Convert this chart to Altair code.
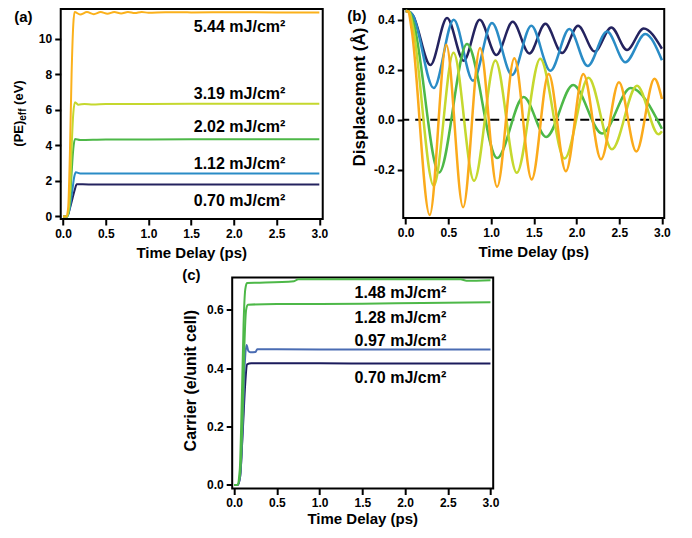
import altair as alt
import pandas as pd

FONT = "Liberation Sans"

# ---------------- Panel (a): (PE)eff vs time ----------------
a_names = ["0.70 mJ/cm²", "1.12 mJ/cm²", "2.02 mJ/cm²", "3.19 mJ/cm²", "5.44 mJ/cm²"]
a_colors = ["#24235F", "#2A8CC6", "#4DB848", "#C5D82E", "#FBB11B"]
a_t_070 = [0.0, 0.05, 0.08, 0.11, 0.14, 0.16, 0.3, 1.0, 2.0, 3.0]
a_v_070 = [0.0, 0.0, 0.45, 1.0, 1.55, 1.81, 1.8, 1.8, 1.79, 1.79]
a_t_112 = [0.0, 0.05, 0.08, 0.11, 0.13, 0.15, 0.2, 0.5, 1.0, 2.0, 3.0]
a_v_112 = [0.0, 0.0, 0.5, 1.5, 2.2, 2.48, 2.42, 2.42, 2.41, 2.42, 2.42]
a_t_202 = [0.0, 0.05, 0.08, 0.10, 0.12, 0.14, 0.2, 0.5, 1.0, 2.0, 3.0]
a_v_202 = [0.0, 0.0, 0.8, 2.4, 3.8, 4.36, 4.3, 4.33, 4.33, 4.34, 4.34]
a_t_319 = [0.0, 0.05, 0.08, 0.10, 0.12, 0.14, 0.18, 0.25, 0.35, 0.5, 1.0, 2.0, 3.0]
a_v_319 = [0.0, 0.0, 1.2, 3.8, 5.8, 6.42, 6.28, 6.33, 6.3, 6.33, 6.33, 6.34, 6.34]
a_t_544 = [0.0, 0.04, 0.06, 0.08, 0.10, 0.12, 0.135, 0.2, 0.28, 0.36, 0.44, 0.52,
           0.6, 0.68, 0.76, 0.84, 0.92, 1.0, 1.2, 1.5, 2.0, 2.5, 3.0]
a_v_544 = [0.0, 0.0, 0.5, 3.5, 8.0, 10.8, 11.5, 11.36, 11.5, 11.38, 11.5, 11.4,
           11.5, 11.42, 11.5, 11.44, 11.5, 11.46, 11.49, 11.48, 11.49, 11.48, 11.48]
a_series = [(a_t_070, a_v_070), (a_t_112, a_v_112), (a_t_202, a_v_202),
            (a_t_319, a_v_319), (a_t_544, a_v_544)]
a_label_t = [1.53, 1.53, 1.53, 1.53, 1.53]
a_label_v = [0.88, 2.97, 5.02, 6.9, 10.65]
a_yticks = [0, 2, 4, 6, 8, 10]

# ---------------- Panel (b): displacement vs time ----------------
b_colors = ["#24235F", "#2A8CC6", "#4DB848", "#C5D82E", "#FBAA1B"]
b_t_070 = [0.0, 0.04, 0.08, 0.289, 0.484, 0.679, 0.866, 1.062, 1.253, 1.448, 1.635,
           1.831, 2.018, 2.212, 2.408, 2.591, 2.786, 3.0]
b_v_070 = [0.435, 0.432, 0.42, 0.219, 0.407, 0.236, 0.400, 0.259, 0.392, 0.265, 0.384,
           0.267, 0.376, 0.273, 0.369, 0.279, 0.365, 0.284]
b_t_112 = [0.0, 0.04, 0.08, 0.328, 0.562, 0.788, 1.01, 1.245, 1.471, 1.694, 1.916,
           2.13, 2.357, 2.572, 2.805, 3.0]
b_v_112 = [0.435, 0.432, 0.42, 0.127, 0.40, 0.156, 0.387, 0.179, 0.376, 0.196, 0.363,
           0.215, 0.353, 0.23, 0.343, 0.238]
b_t_202 = [0.0, 0.04, 0.09, 0.39, 0.718, 1.07, 1.381, 1.645, 1.96, 2.299, 2.635, 3.0]
b_v_202 = [0.435, 0.432, 0.39, -0.211, 0.303, -0.153, 0.091, -0.069, 0.139, -0.055,
           0.127, -0.036]
b_t_319 = [0.0, 0.04, 0.085, 0.328, 0.56, 0.80, 1.05, 1.30, 1.575, 1.86, 2.14, 2.415,
           2.708, 2.962, 3.0]
b_v_319 = [0.435, 0.432, 0.37, -0.264, 0.268, -0.244, 0.237, -0.212, 0.244, -0.155,
           0.168, -0.118, 0.136, -0.058, -0.046]
b_t_544 = [0.0, 0.03, 0.07, 0.281, 0.475, 0.672, 0.87, 1.07, 1.272, 1.475, 1.674,
           1.875, 2.08, 2.287, 2.497, 2.70, 2.913, 3.0]
b_v_544 = [0.435, 0.432, 0.36, -0.381, 0.30, -0.35, 0.287, -0.268, 0.246, -0.239, 0.183,
           -0.206, 0.183, -0.158, 0.15, -0.127, 0.164, 0.083]
b_series = [(b_t_070, b_v_070), (b_t_112, b_v_112), (b_t_202, b_v_202),
            (b_t_319, b_v_319), (b_t_544, b_v_544)]
b_zero = [0.0]
b_yticks = [-0.2, 0.0, 0.2, 0.4]

# ---------------- Panel (c): carrier vs time ----------------
c_names = ["0.70 mJ/cm²", "0.97 mJ/cm²", "1.28 mJ/cm²", "1.48 mJ/cm²"]
c_colors = ["#1B1B5C", "#4A6CB3", "#4DB848", "#4DB848"]
c_t_070 = [0.0, 0.04, 0.07, 0.10, 0.13, 0.15, 0.2, 1.0, 2.0, 3.0]
c_v_070 = [0.0, 0.0, 0.03, 0.18, 0.35, 0.413, 0.417, 0.417, 0.416, 0.416]
c_t_097 = [0.0, 0.04, 0.07, 0.10, 0.125, 0.145, 0.165, 0.19, 0.25, 0.27, 0.5, 1.5, 3.0]
c_v_097 = [0.0, 0.0, 0.03, 0.2, 0.42, 0.48, 0.46, 0.455, 0.456, 0.465, 0.465, 0.464, 0.464]
c_t_128 = [0.0, 0.04, 0.07, 0.10, 0.12, 0.14, 0.16, 0.5, 1.5, 2.2, 3.0]
c_v_128 = [0.0, 0.0, 0.04, 0.25, 0.48, 0.6, 0.618, 0.62, 0.621, 0.624, 0.626]
c_t_148 = [0.0, 0.035, 0.065, 0.09, 0.11, 0.13, 0.15, 0.3, 0.7, 0.75, 1.5, 2.0, 2.65, 2.72, 3.0]
c_v_148 = [0.0, 0.0, 0.05, 0.3, 0.55, 0.67, 0.692, 0.693, 0.698, 0.705, 0.705, 0.705, 0.705, 0.70, 0.702]
c_series = [(c_t_070, c_v_070), (c_t_097, c_v_097), (c_t_128, c_v_128), (c_t_148, c_v_148)]
c_label_t = [1.41, 1.41, 1.41, 1.41]
c_label_v = [0.366, 0.493, 0.571, 0.657]
c_yticks = [0.0, 0.2, 0.4, 0.6]

x_ticks = [0.0, 0.5, 1.0, 1.5, 2.0, 2.5, 3.0]


def axis(values, fmt=None, expr=None):
    kw = dict(values=values, title=None, domain=False, grid=False, ticks=True,
              tickSize=6, tickWidth=2, tickColor="black", labelFont=FONT,
              labelFontWeight="bold", labelFontSize=12, labelColor="black",
              labelPadding=3, labelFlush=False, labelOverlap=False)
    if fmt:
        kw["format"] = fmt
    if expr:
        kw["labelExpr"] = expr
    return alt.Axis(**kw)


def text_layer(s, x, y, size, angle=0, align="center", baseline="middle"):
    kw = dict(align=align, baseline=baseline, font=FONT, fontWeight="bold",
              fontSize=size, color="black")
    if angle:
        kw["angle"] = angle
    return alt.Chart(pd.DataFrame({"s": [s]})).mark_text(**kw).encode(
        x=alt.value(x), y=alt.value(y), text="s:N")


def panel(series, colors, sw, xdom, ydom, yaxis, w, h, below, above):
    X = alt.X("t:Q", scale=alt.Scale(domain=xdom, nice=False, zero=False), axis=axis(x_ticks, fmt=".1f"))
    Y = alt.Y("v:Q", scale=alt.Scale(domain=ydom, nice=False, zero=False), axis=yaxis)
    layers = []
    for (t, v), col in zip(series, colors):
        df = pd.DataFrame({"t": t, "v": v})
        layers.append(alt.Chart(df).mark_line(color=col, strokeWidth=sw, interpolate="monotone",
                                              clip=True).encode(x=X, y=Y))
    lo = [e(X, Y) if callable(e) else e for e in below]
    hi = [e(X, Y) if callable(e) else e for e in above]
    return alt.layer(*(lo + layers + hi)).properties(width=w, height=h)


def ann(ts, vs, labels, size):
    def f(X, Y):
        df = pd.DataFrame({"t": ts, "v": vs, "label": labels})
        return alt.Chart(df).mark_text(align="left", baseline="middle", font=FONT,
                                       fontWeight="bold", fontSize=size, color="black").encode(
            x=X, y=Y, text="label:N")
    return f


def zero_rule(X, Y):
    return alt.Chart(pd.DataFrame({"v": b_zero})).mark_rule(
        color="black", strokeWidth=2.2, strokeDash=[9, 6]).encode(y=Y)


# panel a
A_W, A_H = 262, 210
pa = panel(a_series, a_colors, 2, [-0.027, 3.04], [-0.146, 11.67],
           axis(a_yticks, fmt="d"), A_W, A_H, [],
           [ann(a_label_t, a_label_v, a_names, 16),
            text_layer("(a)", -46.5, 0.5, 15, align="left", baseline="top"),
            text_layer("(PE)", -42, 137.7, 13, angle=270, align="left"),
            text_layer("eff", -38, 111.7, 10, angle=270, align="left"),
            text_layer("(eV)", -42, 95.9, 13, angle=270, align="left"),
            text_layer("Time Delay (ps)", A_W / 2, A_H + 34, 15)])

# panel b
B_W, B_H = 261, 209
pb = panel(b_series, b_colors, 2.5, [-0.029, 3.027], [-0.393, 0.443],
           axis(b_yticks, expr="datum.value < 0 ? '-' + format(-datum.value, '.1f') : format(datum.value, '.1f')"),
           B_W, B_H, [zero_rule],
           [text_layer("(b)", -56, 0, 15, align="left", baseline="top"),
            text_layer("Displacement (Å)", -43.5, 88, 17, angle=270),
            text_layer("Time Delay (ps)", B_W / 2, B_H + 34, 15)])

# panel c
C_W, C_H = 261, 211
pc = panel(c_series, c_colors, 2, [-0.023, 3.032], [-0.012, 0.711],
           axis(c_yticks, fmt=".1f"), C_W, C_H, [],
           [ann(c_label_t, c_label_v, c_names, 16),
            text_layer("(c)", -50, -10, 15, align="left", baseline="top"),
            text_layer("Carrier (e/unit cell)", -41.6, 103.2, 16, angle=270),
            text_layer("Time Delay (ps)", C_W / 2, C_H + 30, 15)])

top = alt.hconcat(pa, pb, spacing=80.5, bounds="flush")

chart = alt.vconcat(top, pc, center=True, spacing=4.5).properties(
    padding={"left": 3.5, "top": 0, "right": 5, "bottom": 5}
).configure_view(stroke="black", strokeWidth=2)

chart.save("out.html", embed_options={"renderer": "svg", "actions": False})
